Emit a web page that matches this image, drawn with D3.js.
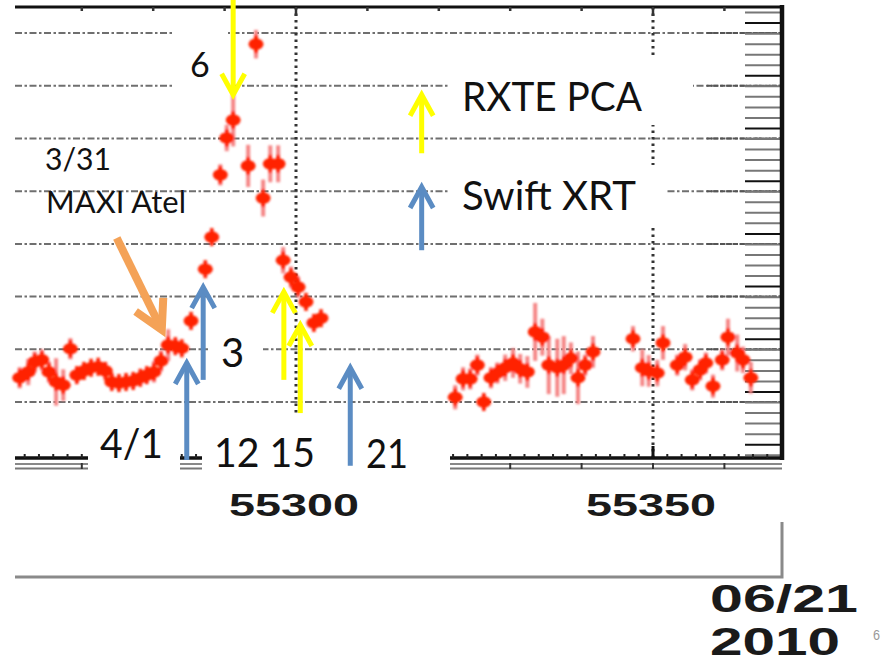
<!DOCTYPE html>
<html>
<head>
<meta charset="utf-8">
<style>
    body { margin: 0; background: white; }
    svg { display: block; }
    .note { font-family: Lato, "Open Sans", sans-serif; fill: #111; }
    .num { font-family: "Liberation Sans", Arial, sans-serif; font-weight: bold; fill: #1a1a1a; }
</style>
</head>
<body>
<svg width="886" height="663"></svg>

<script src="https://d3js.org/d3.v7.min.js"></script>
<script>
    // light curve, MJD vs count rate (arbitrary units)
    let mjd = [55261.3, 55262.5, 55263.4, 55264.4, 55265.4, 55266.4, 55267.4, 55268.4, 55269.3, 55270.3,
        55271.3, 55272.3, 55273.3, 55274.2, 55275.2, 55276.2, 55277.2, 55278.2, 55279.1, 55280.1,
        55281.1, 55282.1, 55283.1, 55284.0, 55285.3, 55287.3, 55288.2, 55289.4, 55290.3, 55291.2,
        55293.3, 55294.4, 55295.4, 55296.4, 55297.5, 55298.2, 55299.3, 55300.3, 55301.4, 55302.5, 55303.5,
        55322.3, 55323.4, 55324.4, 55325.4, 55326.3, 55327.3, 55328.2, 55329.3, 55330.4, 55331.4,
        55332.4, 55333.5, 55334.5, 55335.4, 55336.6, 55337.5, 55338.5, 55339.5, 55340.5, 55341.6,
        55347.2, 55348.5, 55349.4, 55350.6, 55351.4, 55353.4, 55354.5, 55355.5, 55356.6, 55357.4,
        55358.4, 55359.7, 55360.5, 55361.8, 55362.6, 55363.7]
    let flux = [1.46, 1.57, 1.76, 1.80, 1.57, 1.38, 1.32, 2.01, 1.51, 1.59,
        1.65, 1.67, 1.59, 1.38, 1.36, 1.38, 1.40, 1.46, 1.51, 1.57,
        1.78, 2.08, 2.06, 2.02, 2.54, 3.52, 4.13, 5.31, 6.01, 6.35,
        5.48, 7.79, 4.87, 5.52, 5.52, 3.69, 3.37, 3.18, 2.90, 2.50, 2.59,
        1.09, 1.44, 1.44, 1.70, 1.00, 1.46, 1.55, 1.65, 1.74, 1.63,
        1.57, 2.33, 2.23, 1.70, 1.65, 1.70, 1.83, 1.46, 1.70, 1.95,
        2.20, 1.65, 1.59, 1.55, 2.12, 1.70, 1.85, 1.42, 1.61, 1.74,
        1.30, 1.80, 2.23, 1.93, 1.80, 1.46]
    let fluxErr = [0.2, 0.25, 0.2, 0.2, 0.2, 0.45, 0.3, 0.2, 0.15, 0.15,
        0.15, 0.15, 0.15, 0.15, 0.15, 0.15, 0.15, 0.15, 0.15, 0.2,
        0.2, 0.3, 0.15, 0.15, 0.15, 0.15, 0.15, 0.2, 0.25, 0.5,
        0.4, 0.27, 0.35, 0.35, 0.35, 0.25, 0.2, 0.2, 0.15, 0.15, 0.15,
        0.23, 0.22, 0.2, 0.2, 0.15, 0.2, 0.2, 0.25, 0.28, 0.28,
        0.3, 0.55, 0.35, 0.55, 0.55, 0.55, 0.3, 0.5, 0.2, 0.3,
        0.24, 0.35, 0.3, 0.25, 0.32, 0.2, 0.25, 0.2, 0.2, 0.2,
        0.22, 0.2, 0.35, 0.35, 0.25, 0.3]

    let xTickLabels = [55300, 55350]
    let gridLevels = [1, 2, 3, 4, 5, 6, 7, 8]

    // pointing arrows: [mjd, tail level, tip level]
    let rxteArrows = [[55291.2, 8.7, 6.83], [55298.3, 1.42, 3.09], [55300.6, 0.79, 2.46]]
    let swiftArrows = [[55284.7, -0.1, 1.74], [55287.0, 1.42, 3.18], [55307.6, -0.21, 1.65]]
    let legendArrows = [["#ffff00", 5.72, 6.83], ["#5b8cc3", 3.88, 5.08]]
    let legendMjd = 55317.6
    let atelArrow = [[55274.9, 4.11], [55281.2, 2.37]]

    let svg = d3.select("svg")
    let pL = 15, pR = 782, pT = 7, pB = 458

    let x = d3.scaleLinear().domain([55300, 55350]).range([296, 653])
    let y = d3.scaleLinear().domain([0, 8]).range([454.7, 33.1])
    let yR = d3.scaleLinear().domain([-0.19, 7.81]).range([454.7, 33.1])   // right axis is offset

    let defs = svg.append("defs")
    defs.append("filter").attr("id", "soft")
        .attr("x", "-20%").attr("y", "-20%").attr("width", "140%").attr("height", "140%")
        .append("feGaussianBlur").attr("stdDeviation", 0.8)

    // grid
    svg.append("g").selectAll("line")
        .data(gridLevels)
        .join("line")
        .attr("x1", pL).attr("x2", pR)
        .attr("y1", d => y(d)).attr("y2", d => y(d))
        .attr("stroke", "#6f6f6f")
        .attr("stroke-width", 2)
        .attr("stroke-dasharray", "7,2.5,2.5,2.5")

    svg.append("g").selectAll("line")
        .data(gridLevels)
        .join("line")
        .attr("x1", 707).attr("x2", pR)
        .attr("y1", d => y(d)).attr("y2", d => y(d))
        .attr("stroke", "#555")
        .attr("stroke-width", 2)
        .attr("stroke-dasharray", "5,1.5")

    svg.append("g").selectAll("line")
        .data(xTickLabels)
        .join("line")
        .attr("x1", d => x(d)).attr("x2", d => x(d))
        .attr("y1", pT).attr("y2", pB)
        .attr("stroke", "#333")
        .attr("stroke-width", 3)
        .attr("stroke-dasharray", "2.5,4")

    // top axis
    svg.append("line").attr("x1", pL).attr("x2", pR).attr("y1", pT).attr("y2", pT)
        .attr("stroke", "#111").attr("stroke-width", 3)
    svg.append("g").selectAll("line")
        .data(d3.range(55270, 55370, 10))
        .join("line")
        .attr("x1", d => x(d)).attr("x2", d => x(d))
        .attr("y1", pT).attr("y2", d => pT + (xTickLabels.includes(d) ? 9 : 4))
        .attr("stroke", "#333").attr("stroke-width", 2.5)

    // right axis
    svg.append("g").selectAll("line")
        .data(d3.range(-0.2, 8.5, 0.2).filter(d => yR(d) > 10 && yR(d) < 456))
        .join("line")
        .attr("x1", 745).attr("x2", pR)
        .attr("y1", d => yR(d)).attr("y2", d => yR(d))
        .attr("stroke", d => Math.abs(d - Math.round(d)) < 0.01 ? "#111" : "#777")
        .attr("stroke-width", 2)
    svg.append("line").attr("x1", pR).attr("x2", pR).attr("y1", pT - 2).attr("y2", pB + 2)
        .attr("stroke", "#111").attr("stroke-width", 4.5)

    // bottom axis (black line with ticks, two grey lines under it)
    svg.append("line").attr("x1", pL).attr("x2", pR).attr("y1", pB).attr("y2", pB)
        .attr("stroke", "#111").attr("stroke-width", 3.5)
    svg.append("g").selectAll("line")
        .data(d3.range(55262, 55368, 2))
        .join("line")
        .attr("x1", d => x(d)).attr("x2", d => x(d))
        .attr("y1", pB).attr("y2", pB - 4)
        .attr("stroke", "#222").attr("stroke-width", 2)
    svg.append("g").selectAll("line")
        .data(xTickLabels)
        .join("line")
        .attr("x1", d => x(d)).attr("x2", d => x(d))
        .attr("y1", pB).attr("y2", pB - 12)
        .attr("stroke", "#111").attr("stroke-width", 3)
    svg.append("line").attr("x1", pL).attr("x2", pR).attr("y1", 464).attr("y2", 464)
        .attr("stroke", "#888").attr("stroke-width", 2)
    svg.append("line").attr("x1", pL).attr("x2", pR).attr("y1", 468.5).attr("y2", 468.5)
        .attr("stroke", "#777").attr("stroke-width", 2)
    svg.append("g").selectAll("line")
        .data(d3.range(55270, 55370, 10))
        .join("line")
        .attr("x1", d => x(d)).attr("x2", d => x(d))
        .attr("y1", 463).attr("y2", 469)
        .attr("stroke", "#333").attr("stroke-width", 2)

    // lower frame of the slide picture
    svg.append("path")
        .attr("d", `M${pL},577 H${pR} V522`)
        .attr("fill", "none").attr("stroke", "#8a8a8a").attr("stroke-width", 3)

    // white boxes behind annotation text
    let boxes = [[173, 22, 55, 76], [450, 55, 243, 70], [450, 165, 215, 63], [208, 325, 55, 53],
        [88, 415, 92, 65], [202, 415, 143, 65], [345, 415, 105, 65]]
    svg.append("g").selectAll("rect")
        .data(boxes)
        .join("rect")
        .attr("x", d => d[0]).attr("y", d => d[1])
        .attr("width", d => d[2]).attr("height", d => d[3])
        .attr("fill", "white")

    // data points
    let pts = mjd.map((m, i) => ({ m: m, f: flux[i], e: fluxErr[i] }))
    let dots = svg.append("g").attr("filter", "url(#soft)")

    dots.selectAll(".err")
        .data(pts)
        .join("line")
        .attr("class", "err")
        .attr("x1", d => x(d.m)).attr("x2", d => x(d.m))
        .attr("y1", d => y(d.f - d.e)).attr("y2", d => y(d.f + d.e))
        .attr("stroke", "#f58585").attr("stroke-width", 4)

    dots.selectAll(".stub")
        .data(pts)
        .join("line")
        .attr("class", "stub")
        .attr("x1", d => x(d.m)).attr("x2", d => x(d.m))
        .attr("y1", d => y(d.f) - 9).attr("y2", d => y(d.f) + 9)
        .attr("stroke", "#ff2200").attr("stroke-width", 3.5)

    dots.selectAll(".xerr")
        .data(pts)
        .join("line")
        .attr("class", "xerr")
        .attr("x1", d => x(d.m - 0.8)).attr("x2", d => x(d.m + 0.8))
        .attr("y1", d => y(d.f)).attr("y2", d => y(d.f))
        .attr("stroke", "#ff2200").attr("stroke-width", 4)

    dots.selectAll("ellipse")
        .data(pts)
        .join("ellipse")
        .attr("cx", d => x(d.m)).attr("cy", d => y(d.f))
        .attr("rx", 7.5).attr("ry", 5.8)
        .attr("fill", "#ff2200")

    // arrows
    function arrow(g, x1, y1, x2, y2, color, w, head) {
        let dx = x2 - x1, dy = y2 - y1
        let len = Math.sqrt(dx * dx + dy * dy)
        let ux = dx / len, uy = dy / len
        let bx = x2 - ux * head, by = y2 - uy * head
        let nx = -uy * head * 0.55, ny = ux * head * 0.55
        g.append("line").attr("x1", x1).attr("y1", y1).attr("x2", x2 - ux * 2).attr("y2", y2 - uy * 2)
            .attr("stroke", color).attr("stroke-width", w)
        g.append("path")
            .attr("d", `M${bx + nx},${by + ny} L${x2},${y2} L${bx - nx},${by - ny}`)
            .attr("fill", "none").attr("stroke", color).attr("stroke-width", w)
            .attr("stroke-linejoin", "miter").attr("stroke-linecap", "butt")
    }

    let arrows = svg.append("g")
    rxteArrows.forEach(a => arrow(arrows, x(a[0]), y(a[1]), x(a[0]), y(a[2]), "#ffff00", 5, 21))
    swiftArrows.forEach(a => arrow(arrows, x(a[0]), y(a[1]), x(a[0]), y(a[2]), "#5b8cc3", 5, 21))
    legendArrows.forEach(a => arrow(arrows, x(legendMjd), y(a[1]), x(legendMjd), y(a[2]), a[0], 5, 21))
    arrow(arrows, x(atelArrow[0][0]), y(atelArrow[0][1]), x(atelArrow[1][0]), y(atelArrow[1][1]), "#f4a257", 8, 28)

    // annotation text
    function note(txt, px, py, size, len) {
        let t = svg.append("text").attr("class", "note")
            .attr("x", px).attr("y", py)
            .attr("font-size", size)
            .text(txt)
        if (len) t.attr("textLength", len).attr("lengthAdjust", "spacingAndGlyphs")
        return t
    }
    note("6", 190, 77, 34)
    note("RXTE PCA", 462, 111, 40, 180)
    note("Swift XRT", 462, 210, 40, 174)
    note("3/31", 45, 170, 31, 66)
    note("MAXI Atel", 46, 213, 30, 140)
    note("3", 221, 367, 40)
    note("4/1", 100, 458, 40, 63)
    note("12 15", 214, 467, 40, 101)
    note("21", 366, 468, 40, 42)

    // stretched tick labels of the screenshot
    svg.append("g").selectAll("text")
        .data(xTickLabels)
        .join("text")
        .attr("class", "num")
        .attr("x", d => x(d) - 67).attr("y", 516)
        .attr("font-size", 31)
        .attr("textLength", 130).attr("lengthAdjust", "spacingAndGlyphs")
        .text(d => d)

    svg.append("text").attr("class", "num").attr("x", 710).attr("y", 611.5)
        .attr("font-size", 38).attr("textLength", 148).attr("lengthAdjust", "spacingAndGlyphs")
        .text("06/21")
    svg.append("text").attr("class", "num").attr("x", 710).attr("y", 654.5)
        .attr("font-size", 38).attr("textLength", 130).attr("lengthAdjust", "spacingAndGlyphs")
        .text("2010")

    svg.append("text").attr("x", 873).attr("y", 640)
        .attr("font-family", "Liberation Sans Narrow, Liberation Sans, sans-serif")
        .attr("font-size", 14).attr("fill", "#999")
        .attr("textLength", 7).attr("lengthAdjust", "spacingAndGlyphs")
        .text("6")
</script>
</body>
</html>
